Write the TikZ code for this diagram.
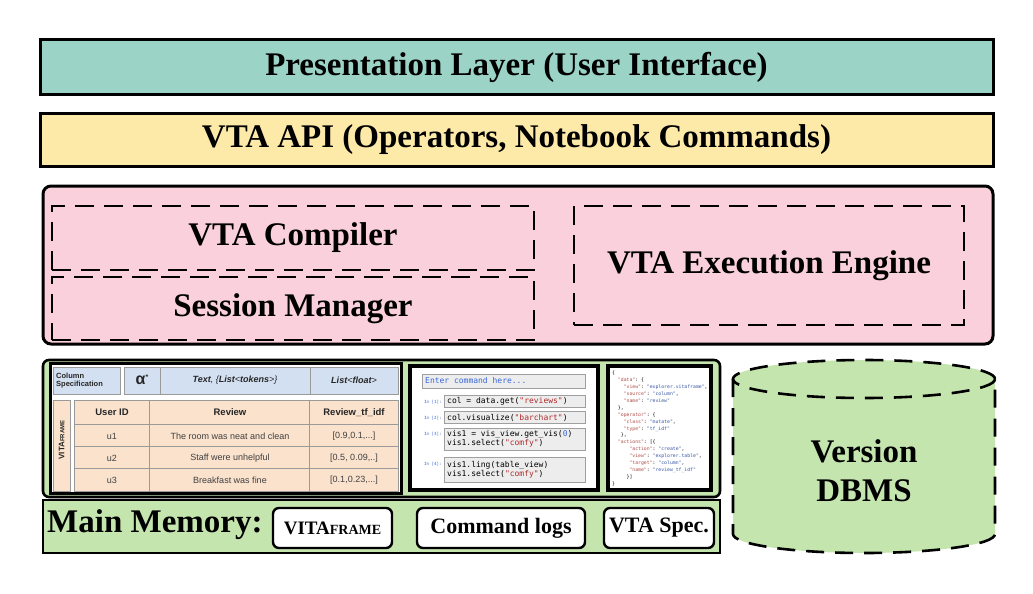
\documentclass[tikz,border=0pt]{standalone}
\usepackage{fontspec}
\setmainfont{Liberation Serif}
\setsansfont{Liberation Sans}
\setmonofont{DejaVu Sans Mono}
\definecolor{tealL}{HTML}{9BD3C7}
\definecolor{yellL}{HTML}{FDE9A8}
\definecolor{pinkL}{HTML}{F9D0DC}
\definecolor{greenL}{HTML}{C5E5AE}
\definecolor{tblue}{HTML}{D3E0F1}
\definecolor{tbeige}{HTML}{FAE2CD}
\definecolor{codered}{HTML}{B02A2A}
\definecolor{codeblue}{HTML}{3A66D8}
\definecolor{jkey}{HTML}{B0504A}
\definecolor{jval}{HTML}{3A58A8}
\definecolor{tgrid}{HTML}{9A9A9A}
\newcommand{\lblfont}{\bfseries\fontsize{33}{36}\selectfont}
\newcommand{\memfont}{\bfseries\fontsize{22}{24}\selectfont}
\newcommand{\jk}[1]{\textcolor{jkey}{"#1"}}
\newcommand{\jv}[1]{\textcolor{jval}{"#1"}}
\newcommand{\str}[1]{\textcolor{codered}{"#1"}}
\begin{document}
\begin{tikzpicture}[x=1pt,y=-1pt,
  layerbox/.style={draw=black, line width=3pt, inner sep=0pt, outer sep=0pt},
  dashbox/.style={draw=black, line width=2.6pt, dash pattern=on 19pt off 10pt, inner sep=0pt},
  membox/.style={draw=black, fill=white, line width=2.4pt, rounded corners=6pt, inner sep=0pt, minimum height=40pt, font=\memfont},
  hcell/.style={draw=tgrid, fill=tblue, line width=0.6pt, inner sep=0pt},
  ttext/.style={font=\sffamily\fontsize{9}{10}\selectfont, text=black!75, inner sep=0pt},
  thead/.style={font=\sffamily\bfseries\fontsize{9.5}{10}\selectfont, text=black!85, inner sep=0pt},
  cbox/.style={draw=gray!75, fill=gray!14, line width=0.8pt, inner sep=0pt},
  ctext/.style={font=\ttfamily\fontsize{8}{9}\selectfont, anchor=west, inner sep=0pt, align=left},
  inlbl/.style={font=\ttfamily\fontsize{4.2}{5}\selectfont, text=codeblue, anchor=east, inner sep=0pt}
]
\useasboundingbox (0,0) rectangle (1033,594);
\fill[white] (0,0) rectangle (1033,594);

% top layers
\node[layerbox, fill=tealL, minimum width=953pt, minimum height=54pt, font=\lblfont] (pres) at (516.5,67) {Presentation Layer (User Interface)};
\node[layerbox, fill=yellL, minimum width=953pt, minimum height=53pt, font=\lblfont] (api) at (516.5,139.5) {VTA API (Operators, Notebook Commands)};

% engine block
\node[layerbox, fill=pinkL, rounded corners=8pt, minimum width=950pt, minimum height=158pt] (core) at (518,265) {};
\node[dashbox, minimum width=482pt, minimum height=64pt, font=\lblfont] (compiler) at (293,238) {VTA Compiler};
\node[dashbox, minimum width=482pt, minimum height=63pt, font=\lblfont] (session) at (293,308.5) {Session Manager};
\node[dashbox, minimum width=390pt, minimum height=119pt, font=\lblfont] (exec) at (769,265.5) {VTA Execution Engine};

% memory panel
\node[draw=black, line width=2.6pt, fill=greenL, rounded corners=6pt, minimum width=677pt, minimum height=137pt, inner sep=0pt] (mempanel) at (381.5,428.5) {};
\node[draw=black, line width=2.6pt, fill=greenL, minimum width=677pt, minimum height=53pt, inner sep=0pt] (membar) at (381.5,526.5) {};
\node[anchor=west, inner sep=0pt, font=\bfseries\fontsize{33}{36}\selectfont] (memlbl) at (47,525) {Main Memory:};
\node[membox, minimum width=119pt, font=\bfseries\fontsize{19}{20}\selectfont] (vfbox) at (332.5,528) {VITA{\fontsize{14}{15}\selectfont FRAME}};
\node[membox, minimum width=168pt] (logbox) at (501,528) {Command logs};
\node[membox, minimum width=110pt] (specbox) at (659,528) {VTA Spec.};

% ---------- table image ----------
\node[draw=black, fill=white, line width=3pt, minimum width=351pt, minimum height=130pt, inner sep=0pt] (tframe) at (225.5,428) {};
\node[hcell, minimum width=67pt, minimum height=27pt] (hc1) at (86.5,380.5) {};
\node[hcell, minimum width=36pt, minimum height=27pt] (hc2) at (142,380.5) {};
\node[hcell, minimum width=150pt, minimum height=27pt] (hc3) at (235,380.5) {};
\node[hcell, minimum width=88pt, minimum height=27pt] (hc4) at (354,380.5) {};
\node[anchor=west, align=left, inner sep=0pt, font=\sffamily\bfseries\fontsize{7.5}{8.7}\selectfont, text=black!85] (colspec) at (56,380.5) {Column\\Specification};
\node[inner sep=0pt, font=\sffamily\bfseries\fontsize{16}{16}\selectfont, text=black!85] (alpha) at (142,380) {α\raisebox{5pt}{\fontsize{7}{7}\selectfont *}};
\node[inner sep=0pt, font=\sffamily\itshape\fontsize{9}{10}\selectfont, text=black!85] (ttok) at (235,380.5) {\textbf{Text}, \{\textbf{List}<\textbf{tokens}>\}};
\node[inner sep=0pt, font=\sffamily\itshape\fontsize{9}{10}\selectfont, text=black!85] (tfl) at (354,380.5) {\textbf{List}<\textbf{float}>};
% data part
\node[draw=tgrid, fill=tbeige, line width=0.6pt, minimum width=17pt, minimum height=91pt, inner sep=0pt] (vstrip) at (61.5,445.5) {};
\node[draw=tgrid, fill=tbeige, line width=0.6pt, minimum width=324pt, minimum height=91pt, inner sep=0pt] (tbody) at (236,445.5) {};
\draw[tgrid, line width=0.6pt] (tbody.north west) ++(0,25) coordinate (r1w) -- (r1w -| tbody.east);
\draw[tgrid, line width=0.6pt] (tbody.north west) ++(0,47) coordinate (r2w) -- (r2w -| tbody.east);
\draw[tgrid, line width=0.6pt] (tbody.north west) ++(0,69) coordinate (r3w) -- (r3w -| tbody.east);
\draw[tgrid, line width=0.6pt] (tbody.north west) ++(76,0) coordinate (c1n) -- (c1n |- tbody.south);
\draw[tgrid, line width=0.6pt] (tbody.north west) ++(236,0) coordinate (c2n) -- (c2n |- tbody.south);
\node[rotate=90, inner sep=0pt, font=\sffamily\bfseries\fontsize{8}{9}\selectfont, text=black!85] (vflbl) at (61.5,440) {VITA{\fontsize{6}{7}\selectfont FRAME}};
\node[thead] (h1) at (112,412.5) {User ID};
\node[thead] (h2) at (230,412.5) {Review};
\node[thead] (h3) at (354,412.5) {Review\_tf\_idf};
\node[ttext] (a1) at (112,436) {u1};
\node[ttext] (a2) at (230,436) {The room was neat and clean};
\node[ttext] (a3) at (354,436) {[0.9,0.1,...]};
\node[ttext] (b1) at (112,458) {u2};
\node[ttext] (b2) at (230,458) {Staff were unhelpful};
\node[ttext] (b3) at (354,458) {[0.5, 0.09,..]};
\node[ttext] (d1) at (112,480) {u3};
\node[ttext] (d2) at (230,480) {Breakfast was fine};
\node[ttext] (d3) at (354,480) {[0.1,0.23,...]};

% ---------- notebook image ----------
\node[draw=black, fill=white, line width=3.4pt, minimum width=188pt, minimum height=124pt, inner sep=0pt] (nbframe) at (504,428) {};
\node[cbox, minimum width=163pt, minimum height=14pt] (entry) at (503.5,381) {};
\node[ctext, text=codeblue] (entryt) at (425,381) {Enter command here...};
\node[cbox, minimum width=141pt, minimum height=12pt] (in1) at (514.5,401.5) {};
\node[cbox, minimum width=141pt, minimum height=12pt] (in2) at (514.5,417.5) {};
\node[cbox, minimum width=141pt, minimum height=22pt] (in3) at (514.5,439) {};
\node[cbox, minimum width=141pt, minimum height=25pt] (in4) at (514.5,469.5) {};
\node[inlbl] (l1) at (442,402) {In [1]:};
\node[inlbl] (l2) at (442,418) {In [2]:};
\node[inlbl] (l3) at (442,434) {In [3]:};
\node[inlbl] (l4) at (442,464) {In [4]:};
\node[ctext] (t1) at (447,401.5) {col = data.get(\str{reviews})};
\node[ctext] (t2) at (447,417.5) {col.visualize(\str{barchart})};
\node[ctext] (t3) at (447,439) {vis1 = vis\_view.get\_vis(\textcolor{codeblue}{0})\\vis1.select(\str{comfy})};
\node[ctext] (t4) at (447,469.5) {vis1.ling(table\_view)\\vis1.select(\str{comfy})};

% ---------- json image ----------
\node[draw=black, fill=white, line width=3.4pt, minimum width=103pt, minimum height=124pt, inner sep=0pt] (jsframe) at (659.5,428) {};
\node[anchor=north west, align=left, inner sep=0pt, font=\ttfamily\fontsize{4.8}{6.9}\selectfont] (json) at (612,371) {%
\{\\
\phantom{xx}\jk{data}: \{\\
\phantom{xxxx}\jk{view}: \jv{explorer.vitaframe},\\
\phantom{xxxx}\jk{source}: \jv{column},\\
\phantom{xxxx}\jk{name}: \jv{review}\\
\phantom{xx}\},\\
\phantom{xx}\jk{operator}: \{\\
\phantom{xxxx}\jk{class}: \jv{mutate},\\
\phantom{xxxx}\jk{type}: \jv{tf\_idf}\\
\phantom{xxx}\},\\
\phantom{xx}\jk{actions}: [\{\\
\phantom{xxxxxx}\jk{action}: \jv{create},\\
\phantom{xxxxxx}\jk{view}: \jv{explorer.table},\\
\phantom{xxxxxx}\jk{target}: \jv{column},\\
\phantom{xxxxxx}\jk{name}: \jv{review\_tf\_idf}\\
\phantom{xxxxx}\}]\\
\}};

% ---------- cylinder ----------
\fill[greenL] (733,379) -- (733,534) arc[start angle=180, end angle=0, x radius=131, y radius=19] -- (995,379) arc[start angle=0, end angle=-180, x radius=131, y radius=19] -- cycle;
\draw[line width=2.6pt, dash pattern=on 18pt off 11pt] (733,379) -- (733,534) arc[start angle=180, end angle=0, x radius=131, y radius=19] -- (995,379);
\draw[line width=2.6pt, dash pattern=on 18pt off 11pt] (864,379) ellipse[x radius=131, y radius=19];
\node[align=center, inner sep=0pt, font=\bfseries\fontsize{33}{39}\selectfont] (dbms) at (864,471) {Version\\DBMS};
\end{tikzpicture}
\end{document}
